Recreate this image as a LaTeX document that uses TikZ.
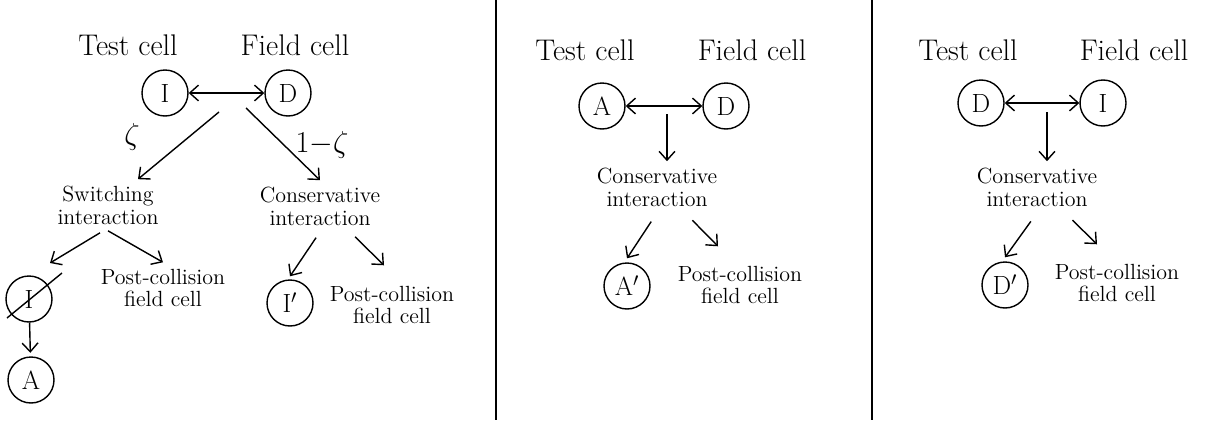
\documentclass[tikz,border=0pt]{standalone}
\usepackage{fontspec}
\usetikzlibrary{arrows.meta}
\tikzset{
  cell/.style={circle,draw,thick,minimum size=0.92cm,inner sep=0pt,
    font=\fontsize{15}{17}\selectfont},
  head/.style={font=\fontsize{17}{20}\selectfont},
  note/.style={align=center,font=\fontsize{12.5}{13}\selectfont},
  >={Straight Barb[length=5pt,width=9pt]}
}
\begin{document}
\begin{tikzpicture}[x=0.02cm,y=-0.02cm,thick]
  \useasboundingbox (0,0) rectangle (1210,426);
  % left panel: inactive test cell
  \node (t1) at (128,45) [head] {Test cell}; \node (f1) at (295,45)
  [head] {Field cell}; \node (i1) at (165,93) [cell] {I}; \node (d1)
  at (288,93) [cell] {D}; \draw[<->] (i1.east) -- (d1.west);
  \node (sw) at (108,205) [note] {Switching\\interaction}; \node (cv1)
  at (320,206) [note] {Conservative\\interaction};
  \coordinate (s1) at (219,112); \coordinate (s2) at (246,108);
  \draw[->] (s1) -- ([shift={(30,0)}]sw.north); \draw[->] (s2) --
  (cv1.north); \node (z1) at (132,137) [head] {$\zeta$}; \node (z2) at
  (322,145) [head] {$1{-}\zeta$};
  \node (x1) at (29,299) [cell] {I}; \draw ([shift={(33,-26)}]x1.center)
  -- ([shift={(-22,19)}]x1.center); \node (a1) at (31,380) [cell] {A};
  \node (pc1) at (163,288) [note] {Post-collision\\field cell};
  \node (ip1) at (290,303) [cell] {I$'$}; \node (pc2) at (392,305)
  [note] {Post-collision\\field cell};
  \draw[->] ([shift={(-8,2)}]sw.south) -- ([shift={(21,-36)}]x1.center);
  \draw[->] (sw.south) -- (pc1.north); \draw[->,shorten >=2pt] (x1) --
  (a1); \draw[->,shorten <=4pt] (cv1.south) -- ([shift={(0,-3)}]ip1.north);
  \draw[->,shorten <=4pt] ([shift={(30,0)}]cv1.south) --
  ([shift={(-8,-14)}]pc2.north);
  \draw[very thick] (496,0) -- (496,420);
  % middle panel: active test cell
  \node (t2) at (585,50) [head] {Test cell}; \node (f2) at (752,50)
  [head] {Field cell}; \node (a2) at (602,106) [cell] {A}; \node (d2)
  at (726,106) [cell] {D}; \draw[<->] (a2.east) -- (d2.west);
  \coordinate (s3) at (667,114); \node (cv2) at (657,187) [note]
  {Conservative\\interaction}; \draw[->] (s3) -- (s3 |- cv2.north);
  \node (ap2) at (627,286) [cell] {A$'$}; \node (pc3) at (740,285)
  [note] {Post-collision\\field cell};
  \draw[->,shorten <=6pt] (cv2.south) -- ([shift={(0,-4)}]ap2.north);
  \draw[->,shorten <=6pt] ([shift={(28,0)}]cv2.south) --
  ([shift={(-22,-13)}]pc3.north);
  \draw[very thick] (872,0) -- (872,420);
  % right panel: dormant test cell
  \node (t3) at (968,50) [head] {Test cell}; \node (f3) at (1134,50)
  [head] {Field cell}; \node (d3) at (981,103) [cell] {D}; \node (i3)
  at (1103,103) [cell] {I}; \draw[<->] (d3.east) -- (i3.west);
  \coordinate (s4) at (1047,112); \node (cv3) at (1037,187) [note]
  {Conservative\\interaction}; \draw[->] (s4) -- (s4 |- cv3.north);
  \node (dp3) at (1005,285) [cell] {D$'$}; \node (pc4) at (1117,283)
  [note] {Post-collision\\field cell};
  \draw[->,shorten <=6pt] (cv3.south) -- ([shift={(0,-4)}]dp3.north);
  \draw[->,shorten <=6pt] ([shift={(28,0)}]cv3.south) --
  ([shift={(-20,-13)}]pc4.north);
\end{tikzpicture}
\end{document}
